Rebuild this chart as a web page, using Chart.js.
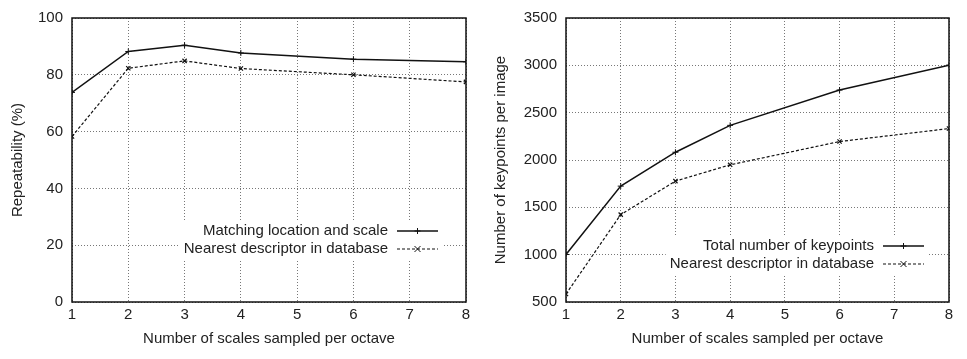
<!DOCTYPE html>
<html>
<head>
<meta charset="utf-8">
<script src="https://cdn.jsdelivr.net/npm/chart.js@4"></script>
<style>
  html, body { margin: 0; padding: 0; background: #fff; }
  #wrap { width: 967px; height: 359px; display: flex; }
  .box { position: relative; height: 359px; }
</style>
</head>
<body>
<div id="wrap">
  <div class="box" style="width:483px"><canvas id="repChart"></canvas></div>
  <div class="box" style="width:484px"><canvas id="kpChart"></canvas></div>
</div>
<script>
// escalas muestreadas por octava (eje x)
const scales = [1, 2, 3, 4, 6, 8];
const xTicks = [1, 2, 3, 4, 5, 6, 7, 8];

// grafico izquierdo: repetibilidad (%)
const repMatching = [73.8, 88.2, 90.4, 87.7, 85.5, 84.6];
const repNearest = [58.3, 82.3, 84.9, 82.2, 80.0, 77.5];
const repTicks = [0, 20, 40, 60, 80, 100];

// grafico derecho: numero de keypoints por imagen
const kpTotal = [1002, 1724, 2082, 2366, 2739, 3002];
const kpNearest = [584, 1423, 1777, 1949, 2195, 2332];
const kpTicks = [500, 1000, 1500, 2000, 2500, 3000, 3500];

const FONT = 'Liberation Sans, Arial, Helvetica, sans-serif';
const FS = 15;
const TXT = '#222';
const pts = arr => scales.map((x, i) => ({x: x, y: arr[i]}));

// leyenda estilo gnuplot dentro del area del grafico
const gnuLegend = {
    id: 'gnuLegend',
    afterDatasetsDraw(chart, args, opts) {
        const ctx = chart.ctx;
        const a = chart.chartArea;
        ctx.save();
        ctx.font = FS + 'px ' + FONT;
        const textW = Math.max(...chart.data.datasets.map(d => ctx.measureText(d.label).width));
        const textRight = a.left + opts.textRight;
        const y0 = a.top + opts.top;
        const rowH = 18;
        // fondo blanco
        ctx.fillStyle = '#fff';
        ctx.fillRect(textRight - textW - 4, y0 - 10, textW + 58, rowH * 2 + 4);
        chart.data.datasets.forEach((d, i) => {
            const y = y0 + i * rowH;
            ctx.fillStyle = TXT;
            ctx.textAlign = 'right';
            ctx.textBaseline = 'middle';
            ctx.fillText(d.label, textRight, y);
            const x1 = textRight + 9, x2 = textRight + 50;
            ctx.strokeStyle = '#111';
            ctx.lineWidth = d.borderWidth;
            ctx.setLineDash(d.borderDash || []);
            ctx.beginPath();
            ctx.moveTo(x1, y);
            ctx.lineTo(x2, y);
            ctx.stroke();
            ctx.setLineDash([]);
            ctx.lineWidth = 1;
            const cx = (x1 + x2) / 2, r = 3;
            ctx.beginPath();
            if (d.pointStyle === 'cross') {
                ctx.moveTo(cx, y - r); ctx.lineTo(cx, y + r);
                ctx.moveTo(cx - r, y); ctx.lineTo(cx + r, y);
            } else {
                ctx.moveTo(cx - r, y - r); ctx.lineTo(cx + r, y + r);
                ctx.moveTo(cx - r, y + r); ctx.lineTo(cx + r, y - r);
            }
            ctx.stroke();
        });
        // marco completo
        ctx.strokeStyle = '#111';
        ctx.lineWidth = 1.5;
        ctx.strokeRect(a.left, a.top, a.right - a.left, a.bottom - a.top);
        ctx.restore();
    }
};

function makeChart(id, s1, s2, yMin, yMax, yTicks, yTitle, yWidth, padRight, legendOpts) {
    return new Chart(document.getElementById(id), {
        type: 'line',
        data: {
            datasets: [
                {
                    label: s1.label,
                    data: pts(s1.data),
                    borderColor: '#111',
                    backgroundColor: '#111',
                    borderWidth: 1.5,
                    pointStyle: 'cross',
                    pointRadius: 3,
                    pointBorderWidth: 1,
                    tension: 0
                },
                {
                    label: s2.label,
                    data: pts(s2.data),
                    borderColor: '#111',
                    backgroundColor: '#111',
                    borderWidth: 1.2,
                    borderDash: [3, 2],
                    pointStyle: 'crossRot',
                    pointRadius: 3,
                    pointBorderWidth: 1.2,
                    tension: 0
                }
            ]
        },
        options: {
            responsive: true,
            maintainAspectRatio: false,
            animation: false,
            layout: { padding: { top: 17, right: padRight, left: 0, bottom: 0 } },
            plugins: {
                legend: { display: false },
                tooltip: { enabled: false },
                gnuLegend: legendOpts
            },
            scales: {
                x: {
                    type: 'linear',
                    min: 1, max: 8,
                    afterBuildTicks: s => { s.ticks = xTicks.map(v => ({value: v})); },
                    afterFit: s => { s.height = 57; },
                    grid: { color: '#777', lineWidth: 1, drawTicks: false },
                    border: { display: false, dash: [1, 2] },
                    ticks: { color: TXT, font: { size: FS, family: FONT }, padding: 4,
                             callback: v => String(v) },
                    title: { display: true, text: 'Number of scales sampled per octave', color: TXT,
                             font: { size: FS, family: FONT }, padding: { top: 0, bottom: 11 } }
                },
                y: {
                    min: yMin, max: yMax,
                    afterBuildTicks: s => { s.ticks = yTicks.map(v => ({value: v})); },
                    afterFit: s => { s.width = yWidth; },
                    grid: { color: '#777', lineWidth: 1, drawTicks: false },
                    border: { display: false, dash: [1, 2] },
                    ticks: { color: TXT, font: { size: FS, family: FONT }, padding: 9,
                             callback: v => String(v) },
                    title: { display: true, text: yTitle, color: TXT,
                             font: { size: FS, family: FONT }, padding: { top: 9, bottom: 0 } }
                }
            }
        },
        plugins: [gnuLegend]
    });
}

makeChart('repChart',
    { label: 'Matching location and scale', data: repMatching },
    { label: 'Nearest descriptor in database', data: repNearest },
    0, 100, repTicks, 'Repeatability (%)', 72, 17,
    { textRight: 316, top: 213 });

makeChart('kpChart',
    { label: 'Total number of keypoints', data: kpTotal },
    { label: 'Nearest descriptor in database', data: kpNearest },
    500, 3500, kpTicks, 'Number of keypoints per image', 83, 18,
    { textRight: 308, top: 228 });
</script>
</body>
</html>
